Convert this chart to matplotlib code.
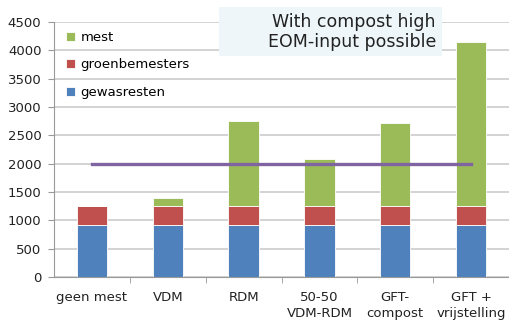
import numpy as np
import matplotlib.pyplot as plt
from matplotlib.patches import Rectangle

# Categorieën en waarden
categories = ["geen mest", "VDM", "RDM", "50-50\nVDM-RDM", "GFT-\ncompost", "GFT +\nvrijstelling"]
gewasresten = [920, 920, 920, 920, 920, 920]
groenbemesters = [340, 340, 340, 340, 340, 340]
mest = [0, 140, 1500, 830, 1450, 2890]
target = [2000, 2000, 2000, 2000, 2000, 2000]

blue = "#4F81BD"
red = "#C0504D"
green = "#9BBB59"
purple = "#8064A2"

fig = plt.figure(figsize=(5.09, 3.2), dpi=100)
ax = fig.add_axes([54 / 509, 1 - 277 / 320, 455 / 509, 255 / 320])

x = np.arange(len(categories))
w = 0.4
b1 = np.array(gewasresten)
b2 = b1 + np.array(groenbemesters)
ax.bar(x, gewasresten, w, color=blue, edgecolor="white", linewidth=0.6, label="gewasresten", zorder=2)
ax.bar(x, groenbemesters, w, bottom=b1, color=red, edgecolor="white", linewidth=0.6, label="groenbemesters", zorder=2)
ax.bar(x, mest, w, bottom=b2, color=green, edgecolor="white", linewidth=0.6, label="mest", zorder=2)
ax.plot(x, target, color=purple, linewidth=2.4, zorder=3)

ax.set_xlim(-0.5, len(categories) - 0.5)
ax.set_ylim(0, 4500)
ax.set_yticks(range(0, 4501, 500))
ax.yaxis.grid(True, color="#CCCCCC", linewidth=1.2, zorder=0)
ax.set_axisbelow(True)

ax.set_xticks(x)
ax.set_xticklabels(categories, fontsize=9.5, color="#222222", linespacing=1.3)
ax.set_xticks(np.arange(0.5, len(categories) - 0.5), minor=True)
ax.tick_params(axis="x", which="major", length=0, pad=10)
ax.tick_params(axis="x", which="minor", length=4, color="#999999")
ax.tick_params(axis="y", length=4, color="#999999", labelsize=9.5, labelcolor="#222222", pad=5)

for s in ["top", "right"]:
    ax.spines[s].set_visible(False)
ax.spines["left"].set_color("#999999")
ax.spines["bottom"].set_color("#999999")

h, l = ax.get_legend_handles_labels()
ax.legend(h[::-1], l[::-1], loc="upper left", bbox_to_anchor=(0.0, 1.012), frameon=False,
          fontsize=9.5, handlelength=0.7, handleheight=0.7, handletextpad=0.4, labelspacing=1.1)

# tekstvak rechtsboven
fig.patches.append(Rectangle((219 / 509, 1 - 56 / 320), 223 / 509, 49 / 320,
                             transform=fig.transFigure, facecolor="#EEF6F9", edgecolor="none", zorder=4))
fig.text(436 / 509, 1 - 32 / 320, "With compost high\nEOM-input possible", ha="right", va="center",
         fontsize=12.5, color="#222222", linespacing=1.1, zorder=5)

fig.savefig("out.png", dpi=100)
